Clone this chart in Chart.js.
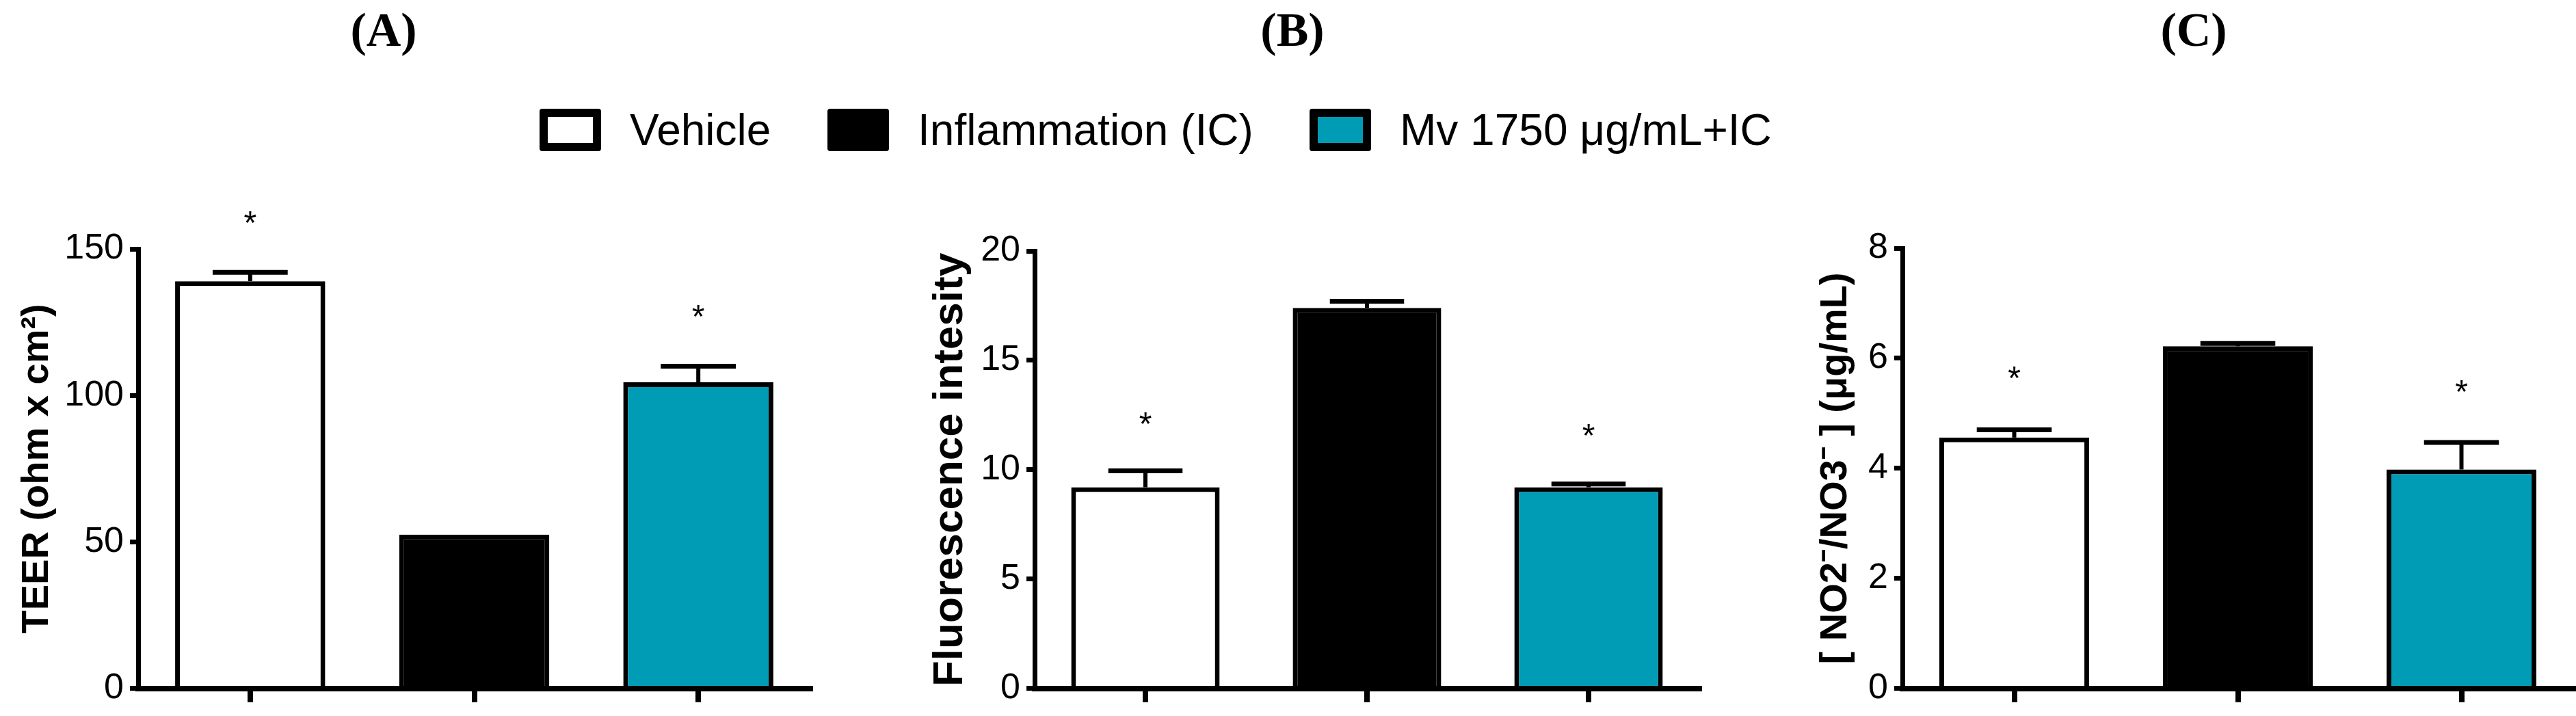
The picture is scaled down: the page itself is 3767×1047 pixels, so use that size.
<!DOCTYPE html>
<html>
<head>
<meta charset="utf-8">
<script src="https://cdn.jsdelivr.net/npm/chart.js@4.4.1/dist/chart.umd.min.js"></script>
<style>
  html, body { margin: 0; padding: 0; background: #fff; }
  body { width: 3767px; height: 1047px; position: relative; overflow: hidden; }
  .panel-title {
    position: absolute; top: 2px; width: 200px; margin-left: -100px;
    text-align: center; font-family: 'Liberation Serif', 'Times New Roman', serif;
    font-weight: bold; font-size: 70px; line-height: 84px; color: #000;
  }
  .lg-item {
    position: absolute; top: 158px; height: 64px;
    display: flex; align-items: center; white-space: nowrap;
    font-family: 'Liberation Sans', Arial, sans-serif; font-size: 64px; color: #000;
  }
  .lg-box { width: 66px; height: 38px; border: 12px solid #000; border-radius: 4px; margin-right: 42px; }
  canvas { position: absolute; top: 260px; }
</style>
</head>
<body>
<div class="panel-title" style="left:561px">(A)</div>
<div class="panel-title" style="left:1890px">(B)</div>
<div class="panel-title" style="left:3208px">(C)</div>
<div id="legend"></div>

<canvas id="chartA" width="1230" height="787" style="left:0px"></canvas>
<canvas id="chartB" width="1280" height="787" style="left:1230px"></canvas>
<canvas id="chartC" width="1257" height="787" style="left:2510px"></canvas>

<script>
// groups + colours
const groups = ['Vehicle', 'Inflammation (IC)', 'Mv 1750 μg/mL+IC'];
const barColors = ['#ffffff', '#000000', '#009bb4'];
const legendLeft = [789, 1210, 1915];

// (A) TEER
const teerMean = [139, 52.5, 104.5];
const teerErr = [3, 0, 5.5];
const teerStar = [161.5, null, 129.5];

// (B) fluorescence
const fluoMean = [9.2, 17.4, 9.2];
const fluoErr = [0.75, 0.3, 0.15];
const fluoStar = [12.45, null, 11.9];

// (C) NO2-/NO3-
const noxMean = [4.56, 6.22, 3.98];
const noxErr = [0.14, 0.05, 0.49];
const noxStar = [5.78, null, 5.53];

// legend (html)
const legendEl = document.getElementById('legend');
groups.forEach((g, i) => {
  const item = document.createElement('div');
  item.className = 'lg-item';
  item.style.left = legendLeft[i] + 'px';
  const box = document.createElement('div');
  box.className = 'lg-box';
  box.style.background = barColors[i];
  const txt = document.createElement('span');
  txt.textContent = g;
  item.appendChild(box);
  item.appendChild(txt);
  legendEl.appendChild(item);
});

// error bars + significance stars, drawn from the y scale
const errorBarPlugin = {
  id: 'errorBars',
  afterDatasetsDraw(chart, args, opts) {
    const { ctx } = chart;
    const y = chart.scales.y;
    const meta = chart.getDatasetMeta(0);
    ctx.save();
    ctx.strokeStyle = '#000';
    ctx.lineCap = 'butt';
    meta.data.forEach((bar, i) => {
      const v = opts.means[i];
      if (opts.errors[i] > 0) {
        const top = y.getPixelForValue(v + opts.errors[i]);
        const base = y.getPixelForValue(v);
        const capW = bar.width / 2;
        ctx.lineWidth = 6;
        ctx.beginPath();
        ctx.moveTo(bar.x, base);
        ctx.lineTo(bar.x, top);
        ctx.stroke();
        ctx.lineWidth = 7;
        ctx.beginPath();
        ctx.moveTo(bar.x - capW / 2, top);
        ctx.lineTo(bar.x + capW / 2, top);
        ctx.stroke();
      }
      if (opts.stars[i] != null) {
        ctx.fillStyle = '#000';
        ctx.font = '48px "Liberation Sans", Arial, sans-serif';
        ctx.textAlign = 'center';
        ctx.textBaseline = 'alphabetic';
        ctx.fillText('*', bar.x, y.getPixelForValue(opts.stars[i]) + 0.57 * 48);
      }
    });
    ctx.restore();
  }
};

const tickFont = { family: "'Liberation Sans Narrow', 'Arial Narrow', 'Liberation Sans', sans-serif", size: 52 };

function makeChart(id, cfg) {
  return new Chart(document.getElementById(id), {
    type: 'bar',
    data: {
      labels: groups,
      datasets: [{
        data: cfg.means,
        backgroundColor: barColors,
        borderColor: '#000',
        borderWidth: 7,
        borderSkipped: 'bottom',
        barPercentage: 0.67,
        categoryPercentage: 1
      }]
    },
    options: {
      responsive: false,
      animation: false,
      devicePixelRatio: 1,
      layout: { padding: { top: cfg.top, right: cfg.right, left: 0, bottom: 0 } },
      plugins: {
        legend: { display: false },
        tooltip: { enabled: false },
        errorBars: { means: cfg.means, errors: cfg.errors, stars: cfg.stars }
      },
      scales: {
        x: {
          grid: { display: true, drawOnChartArea: false, offset: false, tickLength: 20, lineWidth: 8, color: '#000' },
          border: { display: true, width: 8, color: '#000' },
          ticks: { display: false },
          afterFit(scale) { scale.height = 33; }
        },
        y: {
          min: 0,
          max: cfg.max,
          ticks: { stepSize: cfg.step, color: '#000', font: tickFont, padding: 9 },
          grid: { display: true, drawOnChartArea: false, tickLength: 12, lineWidth: 7, color: '#000' },
          border: { display: true, width: 7, color: '#000' },
          title: {
            display: true,
            text: cfg.title,
            color: '#000',
            font: { family: "'Liberation Sans', Arial, sans-serif", weight: 'bold', size: cfg.titleSize },
            padding: { top: cfg.titlePad, bottom: 0 }
          },
          afterFit(scale) { scale.width = cfg.axisW; }
        }
      }
    },
    plugins: [errorBarPlugin]
  });
}

makeChart('chartA', {
  means: teerMean, errors: teerErr, stars: teerStar,
  max: 150, step: 50, title: 'TEER (ohm x cm²)', titleSize: 56, titlePad: 21,
  top: 104, right: 45, axisW: 202
});

makeChart('chartB', {
  means: fluoMean, errors: fluoErr, stars: fluoStar,
  max: 20, step: 5, title: 'Fluorescence intesity', titleSize: 62, titlePad: 123,
  top: 107, right: 25, axisW: 283
});

makeChart('chartC', {
  means: noxMean, errors: noxErr, stars: noxStar,
  max: 8, step: 2, title: '[ NO2⁻/NO3⁻ ] (μg/mL)', titleSize: 56, titlePad: 141,
  top: 103, right: 4, axisW: 272
});
</script>
</body>
</html>
